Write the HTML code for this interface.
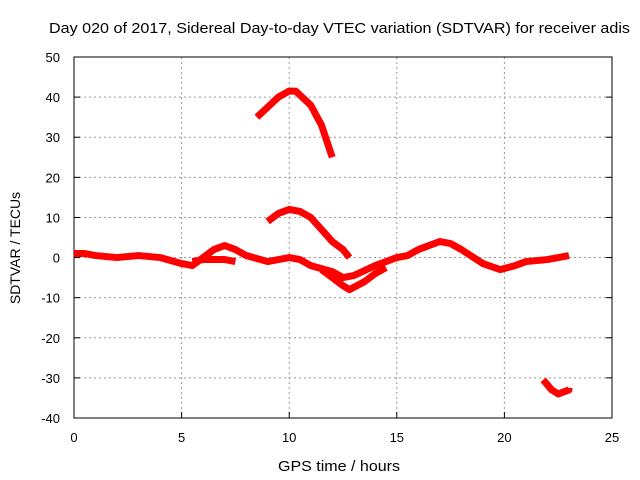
<!DOCTYPE html>
<html><head><meta charset="utf-8"><style>body{margin:0;background:#fff}svg{display:block;font-family:"Liberation Sans",sans-serif}</style></head>
<body>
<svg width="640" height="480" id="c"></svg>
<script>
const xTicks=[0,5,10,15,20,25];
const yTicks=[50,40,30,20,10,0,-10,-20,-30,-40];
const seriesMain=[[0,1],[0.5,1],[1,0.5],[2,0],[3,0.5],[4,0],[5,-1.5],[5.5,-2],[6,0],[6.5,2],[7,3],[7.5,2],[8,0.5],[9,-1],[10,0],[10.5,-0.5],[11,-2],[12,-3.5],[12.5,-5],[13,-4.5],[14,-2],[15,0],[15.5,0.5],[16,2],[17,4],[17.5,3.5],[18,2],[19,-1.5],[19.8,-3],[20.5,-2],[21,-1],[22,-0.5],[23,0.5]];
const seriesBranchA=[[5.5,-1],[6,-0.5],[7,-0.5],[7.5,-1]];
const seriesBranchB=[[11.5,-3],[12,-5],[12.5,-7],[12.8,-8],[13.5,-6],[14,-4],[14.5,-2.5]];
const seriesMid=[[9,9],[9.5,11],[10,12],[10.5,11.5],[11,10],[11.5,7],[12,4],[12.5,2],[12.8,0]];
const seriesHigh=[[8.5,35],[9,37.5],[9.5,40],[10,41.5],[10.3,41.5],[11,38],[11.5,33],[12,25]];
const seriesLow=[[21.8,-30.5],[22.2,-33],[22.5,-34],[23,-33],[23,-32.5]];
const L=74,R=612,T=57,B=418;
const xs=v=>L+(v-0)/25*(R-L);
const ys=v=>T+(50-v)/90*(B-T);
const svg=document.getElementById('c');
const NS='http://www.w3.org/2000/svg';
function mk(t,a){const e=document.createElementNS(NS,t);for(const k in a)e.setAttribute(k,a[k]);svg.appendChild(e);return e;}
let g;
xTicks.forEach(v=>{
 if(v>0&&v<25){g=mk('line',{x1:xs(v),x2:xs(v),y1:T,y2:B,stroke:'#999','stroke-dasharray':'2,3'});
 
 }
 g=mk('line',{x1:xs(v),x2:xs(v),y1:B,y2:B-6,stroke:'#000'});
 
 
 g=mk('text',{x:xs(v),y:B+24,'text-anchor':'middle','font-size':'13'});g.textContent=v;
 
 
});
yTicks.forEach(v=>{
 if(v<50&&v>-40){g=mk('line',{x1:L,x2:R,y1:ys(v),y2:ys(v),stroke:'#999','stroke-dasharray':'2,3'});
 
 }
 g=mk('line',{x1:L,x2:L+6,y1:ys(v),y2:ys(v),stroke:'#000'});
 
 
 g=mk('line',{x1:R,x2:R-6,y1:ys(v),y2:ys(v),stroke:'#000'});
 
 
 g=mk('text',{x:L-14,y:ys(v)+5,'text-anchor':'end','font-size':'13'});g.textContent=v;
 
 
});
g=mk('rect',{x:L,y:T,width:R-L,height:B-T,fill:'none',stroke:'#000'});


[seriesMain,seriesBranchA,seriesBranchB,seriesMid,seriesHigh,seriesLow].forEach((s,i)=>{
 g=mk('polyline',{points:s.map(p=>xs(p[0])+','+ys(p[1])).join(' '),fill:'none',stroke:'#f00','stroke-width':'7','stroke-linejoin':'round'});
 
 
});
g=mk('text',{x:49,y:33,'font-size':'15',textLength:'581',lengthAdjust:'spacingAndGlyphs'});g.textContent='Day 020 of 2017, Sidereal Day-to-day VTEC variation (SDTVAR) for receiver adis';


g=mk('text',{x:278,y:471,'font-size':'15',textLength:'122',lengthAdjust:'spacingAndGlyphs'});g.textContent='GPS time / hours';


g=mk('text',{x:0,y:0,'text-anchor':'middle','font-size':'14',transform:'translate(20,248) rotate(-90)'});g.textContent='SDTVAR / TECUs';


</script>
</body></html>
